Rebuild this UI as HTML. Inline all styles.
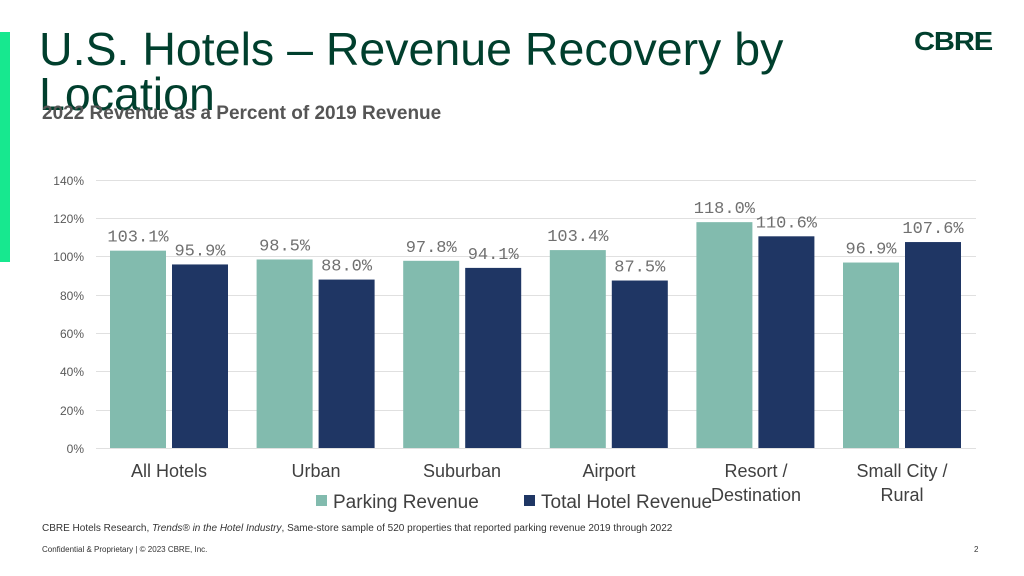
<!DOCTYPE html>
<html><head><meta charset="utf-8"><style>
body{margin:0;width:1024px;height:576px;background:#fff;position:relative;overflow:hidden;font-family:"Liberation Sans",sans-serif}
.t{position:absolute;white-space:nowrap}
</style></head><body>
<div style="position:absolute;left:0;top:32px;width:10px;height:230px;background:#17e88f"></div>
<div class="t" style="left:39px;top:27px;font-size:46.5px;line-height:45px;color:#003f2d">U.S. Hotels – Revenue Recovery by<br>Location</div>
<div class="t" style="left:42px;top:103px;font-size:19px;font-weight:bold;color:#555">2022 Revenue as a Percent of 2019 Revenue</div>
<div class="t" style="left:914px;top:26px;font-size:26px;font-weight:900;color:#003f2d;letter-spacing:-1px;transform:scaleX(1.12);transform-origin:left">CBRE</div>
<svg width="1024" height="576" style="position:absolute;left:0;top:0">
<g stroke="#e0e0e0" stroke-width="1">
<line x1="96" x2="976" y1="180.5" y2="180.5"/><line x1="96" x2="976" y1="218.5" y2="218.5"/><line x1="96" x2="976" y1="256.5" y2="256.5"/><line x1="96" x2="976" y1="295.5" y2="295.5"/><line x1="96" x2="976" y1="333.5" y2="333.5"/><line x1="96" x2="976" y1="371.5" y2="371.5"/><line x1="96" x2="976" y1="410.5" y2="410.5"/><line x1="96" x2="976" y1="448.5" y2="448.5"/>
</g>
<g font-size="12" fill="#595959" text-anchor="end" font-family="Liberation Sans">
<text x="84" y="185">140%</text><text x="84" y="223">120%</text><text x="84" y="261">100%</text><text x="84" y="300">80%</text><text x="84" y="338">60%</text><text x="84" y="376">40%</text><text x="84" y="415">20%</text><text x="84" y="453">0%</text>
</g>
<g id="bars"></g>
<g font-size="18" fill="#404040" text-anchor="middle" font-family="Liberation Sans">
<text x="169" y="477">All Hotels</text><text x="316" y="477">Urban</text><text x="462" y="477">Suburban</text><text x="609" y="477">Airport</text>
<text x="756" y="477">Resort /</text><text x="756" y="501">Destination</text>
<text x="902" y="477">Small City /</text><text x="902" y="501">Rural</text>
</g>
<rect x="316" y="495" width="11" height="11" fill="#82bbae"/>
<text x="333" y="508" font-size="19" fill="#404040" font-family="Liberation Sans">Parking Revenue</text>
<rect x="524" y="495" width="11" height="11" fill="#1f3664"/>
<text x="541" y="508" font-size="19" fill="#404040" font-family="Liberation Sans">Total Hotel Revenue</text>
</svg>
<div class="t" style="left:42px;top:523px;font-size:10px;color:#333">CBRE Hotels Research, <i>Trends® in the Hotel Industry</i>, Same-store sample of 520 properties that reported parking revenue 2019 through 2022</div>
<div class="t" style="left:42px;top:545px;font-size:8px;color:#333">Confidential &amp; Proprietary | © 2023 CBRE, Inc.</div>
<div class="t" style="left:974px;top:545px;font-size:8px;color:#333">2</div>
<script>
var d=[[103.1,95.9],[98.5,88.0],[97.8,94.1],[103.4,87.5],[118.0,110.6],[96.9,107.6]];
var g=document.getElementById('bars'),h='';
d.forEach(function(p,i){var x0=110+i*146.6;p.forEach(function(v,j){var x=x0+j*62,t=448-v*1.914;
h+='<rect x="'+x+'" y="'+t+'" width="56" height="'+(448-t)+'" fill="'+(j?'#1f3664':'#82bbae')+'"/>';
h+='<text x="'+(x+28)+'" y="'+(t-9)+'" text-anchor="middle" font-family="Liberation Mono" font-size="17" fill="#707070">'+v.toFixed(1)+'%</text>';});});
g.innerHTML=h;
</script>
</body></html>
